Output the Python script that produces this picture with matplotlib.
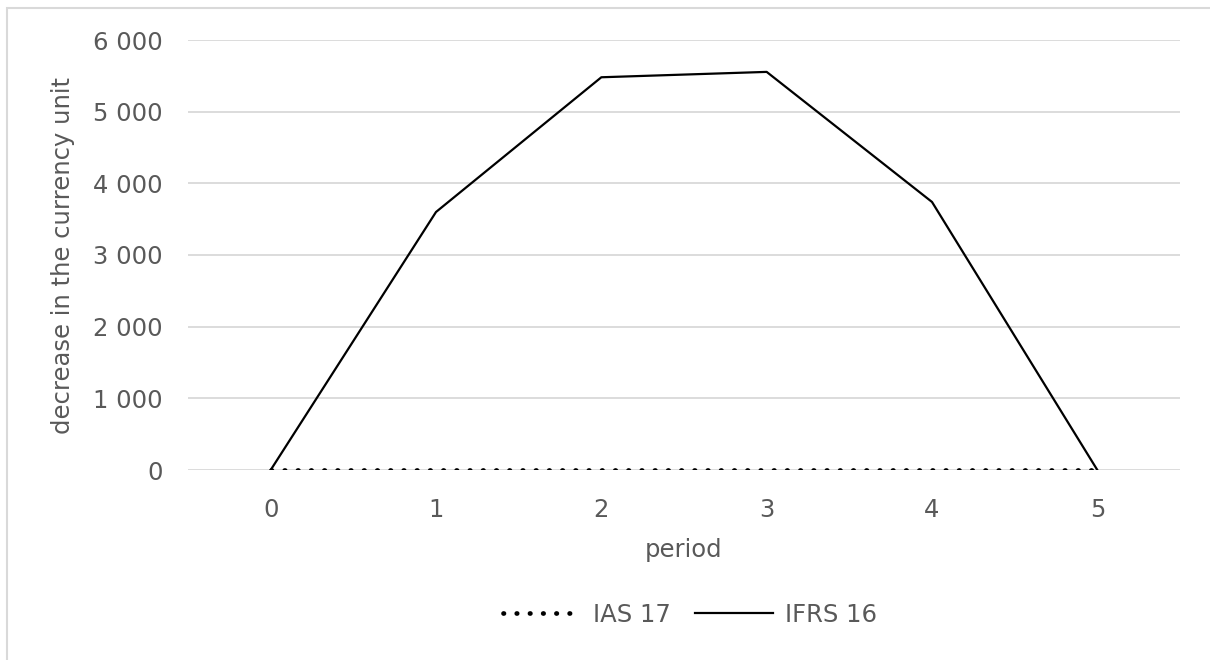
import matplotlib
matplotlib.use("Agg")
import matplotlib.pyplot as plt
from matplotlib.patches import Rectangle
from matplotlib.ticker import FuncFormatter

periods = [0, 1, 2, 3, 4, 5]
ias17 = [0, 0, 0, 0, 0, 0]
ifrs16 = [0, 3600, 5480, 5555, 3740, 0]
yticks = [0, 1000, 2000, 3000, 4000, 5000, 6000]

plt.rcParams['font.family'] = ['DejaVu Sans']
grey = '#595959'
fs = 17.5

fig = plt.figure(figsize=(12.1, 6.6), dpi=100)
fig.patches.append(Rectangle((7/1210, -0.1), 1.2, 1 - 8/660 + 0.1, transform=fig.transFigure,
                             fill=False, edgecolor='#d9d9d9', linewidth=1.5))
ax = fig.add_axes([188/1210, 1 - 470/660, (1180-188)/1210, (470-40)/660])

ax.plot(periods, ifrs16, color='black', linewidth=1.6, label='IFRS 16', zorder=3)
ax.plot(periods, ias17, color='black', linewidth=3.4, linestyle=(0, (0.1, 2.7)),
        dash_capstyle='round', label='IAS 17', zorder=4)

ax.set_xlim(-0.5, 5.5)
ax.set_ylim(0, 6000)
ax.set_yticks(yticks)
ax.set_xticks(periods)
ax.yaxis.set_major_formatter(FuncFormatter(lambda v, p: f"{v:,.0f}".replace(",", " ")))
ax.grid(axis='y', color='#d9d9d9', linewidth=1.3)
ax.set_axisbelow(True)
for s in ax.spines.values():
    s.set_visible(False)
ax.tick_params(length=0, labelsize=fs, labelcolor=grey)
ax.tick_params(axis='y', pad=18)
ax.tick_params(axis='x', pad=20)
ax.set_xlabel('period', fontsize=fs, color=grey, labelpad=12)
ax.set_ylabel('decrease in the currency unit', fontsize=fs, color=grey, labelpad=13)

h, l = ax.get_legend_handles_labels()
fig.legend([h[1], h[0]], [l[1], l[0]], loc='center', bbox_to_anchor=(690/1210, 1 - 615/660),
           ncol=2, frameon=False, fontsize=fs, labelcolor=grey, handlelength=3.2,
           columnspacing=1.0, handletextpad=0.5)

fig.savefig('out.png', dpi=100)
